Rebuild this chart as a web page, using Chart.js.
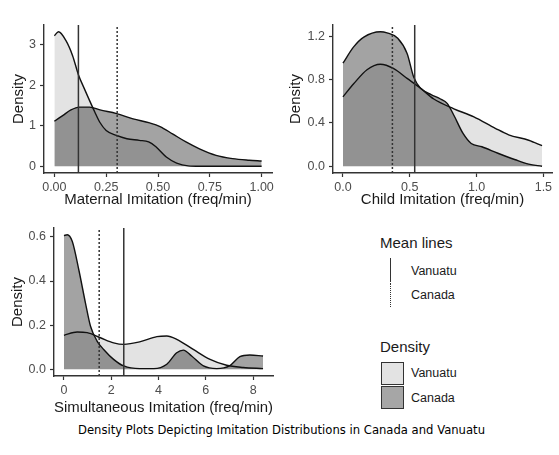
<!DOCTYPE html>
<html><head><meta charset="utf-8">
<script src="https://cdn.jsdelivr.net/npm/chart.js@4/dist/chart.umd.min.js"></script>
<style>
html,body{margin:0;padding:0;background:#fff;}
body{width:559px;height:455px;overflow:hidden;position:relative;font-family:"Liberation Sans",Arial,sans-serif;}
canvas{position:absolute;}
.lg{position:absolute;color:#1a1a1a;white-space:nowrap;line-height:1;}
.lt{font-size:15px;}
.ll{font-size:12.5px;}
.key{position:absolute;box-sizing:border-box;}
#cap{position:absolute;left:2px;top:424px;width:559px;text-align:center;font-family:"DejaVu Sans",sans-serif;font-size:12.5px;line-height:1;color:#000;transform-origin:50% 50%;white-space:nowrap;}
</style></head><body>
<canvas id="c1" style="left:0;top:0" width="280" height="215"></canvas>
<canvas id="c2" style="left:280px;top:0" width="279" height="215"></canvas>
<canvas id="c3" style="left:0;top:215px" width="300" height="205"></canvas>

<div class="lg lt" style="left:380px;top:235px">Mean lines</div>
<div class="key" style="left:390px;top:258px;width:0;height:24px;border-left:1.5px solid #333"></div>
<div class="key" style="left:390px;top:283px;width:0;height:24px;border-left:1.5px dotted #333"></div>
<div class="lg ll" style="left:411px;top:265px">Vanuatu</div>
<div class="lg ll" style="left:411px;top:289px">Canada</div>

<div class="lg lt" style="left:380px;top:339px">Density</div>
<div class="key" style="left:381px;top:362px;width:23px;height:23px;border:1.5px solid #333;background:#e3e3e3"></div>
<div class="key" style="left:381px;top:386px;width:23px;height:23px;border:1.5px solid #333;background:#a6a6a6"></div>
<div class="lg ll" style="left:411px;top:367px">Vanuatu</div>
<div class="lg ll" style="left:411px;top:392px">Canada</div>

<div id="cap">Density Plots Depicting Imitation Distributions in Canada and Vanuatu</div>

<script>
// ---------- DATA ----------
// Maternal imitation
const maternalVanuatuX = [0, 0.02, 0.056, 0.088, 0.116, 0.145, 0.17, 0.195, 0.22, 0.25, 0.3, 0.35, 0.41, 0.455, 0.49, 0.54, 0.59, 0.645, 0.7, 0.85, 1.0];
const maternalVanuatuY = [3.22, 3.32, 3.10, 2.73, 2.26, 1.91, 1.62, 1.34, 1.08, 0.885, 0.76, 0.68, 0.64, 0.60, 0.48, 0.23, 0.08, 0.01, 0, 0, 0];
const maternalCanadaX = [0, 0.04, 0.08, 0.12, 0.17, 0.22, 0.3, 0.38, 0.46, 0.51, 0.57, 0.635, 0.70, 0.78, 0.86, 0.94, 1.0];
const maternalCanadaY = [1.11, 1.25, 1.39, 1.46, 1.46, 1.39, 1.30, 1.17, 1.07, 0.98, 0.80, 0.60, 0.43, 0.27, 0.19, 0.15, 0.13];
// Child imitation
const childVanuatuX = [0, 0.08, 0.18, 0.28, 0.38, 0.48, 0.58, 0.68, 0.83, 0.98, 1.14, 1.24, 1.39, 1.49];
const childVanuatuY = [0.64, 0.76, 0.89, 0.94, 0.90, 0.81, 0.72, 0.62, 0.53, 0.455, 0.35, 0.29, 0.24, 0.19];
const childCanadaX = [0, 0.08, 0.156, 0.28, 0.33, 0.41, 0.48, 0.53, 0.58, 0.66, 0.73, 0.78, 0.83, 0.9, 0.96, 1.04, 1.16, 1.29, 1.39, 1.49];
const childCanadaY = [0.95, 1.10, 1.19, 1.24, 1.23, 1.18, 1.04, 0.82, 0.72, 0.66, 0.62, 0.58, 0.47, 0.30, 0.21, 0.18, 0.12, 0.06, 0.02, 0.0];
// Simultaneous imitation
const simulVanuatuX = [0, 0.56, 0.98, 1.54, 2.1, 2.53, 3.2, 3.93, 4.35, 4.77, 5.47, 6.18, 6.88, 7.58, 8.42];
const simulVanuatuY = [0.154, 0.169, 0.166, 0.143, 0.12, 0.113, 0.124, 0.148, 0.151, 0.136, 0.09, 0.045, 0.018, 0.008, 0.003];
const simulCanadaX = [0, 0.14, 0.35, 0.63, 0.91, 1.12, 1.4, 1.68, 2.1, 2.53, 3.2, 3.8, 4.35, 4.77, 5.05, 5.4, 5.9, 6.46, 7.0, 7.44, 7.86, 8.42];
const simulCanadaY = [0.606, 0.61, 0.58, 0.45, 0.30, 0.196, 0.128, 0.09, 0.045, 0.015, 0.003, 0.003, 0.023, 0.075, 0.087, 0.06, 0.015, 0.003, 0.015, 0.057, 0.065, 0.06];
// Mean lines [maternal, child, simultaneous]
const meanVanuatu = [0.116, 0.537, 2.53];
const meanCanada = [0.303, 0.37, 1.49];
// Tick labels
const maternalXTicks = ["0.00", "0.25", "0.50", "0.75", "1.00"];
const maternalYTicks = ["0", "1", "2", "3"];
const childXTicks = ["0.0", "0.5", "1.0", "1.5"];
const childYTicks = ["0.0", "0.4", "0.8", "1.2"];
const simulXTicks = ["0", "2", "4", "6", "8"];
const simulYTicks = ["0.0", "0.2", "0.4", "0.6"];
const axisTitles = ["Maternal Imitation (freq/min)", "Child Imitation (freq/min)", "Simultaneous Imitation (freq/min)"];
const yTitle = "Density";

// ---------- DRAW ----------
const FONT = '"Liberation Sans", Arial, sans-serif';
function pts(xs, ys) { return xs.map((x, i) => ({ x: x, y: ys[i] })); }

function buildPanel(id, p) {
  const tickFont = { family: FONT, size: 12.5 };
  const titleFont = { family: FONT, size: 15 };
  const datasets = [
    { data: [{ x: p.meanV, y: p.yMin }, { x: p.meanV, y: p.yMax }], borderColor: '#333', borderWidth: 1.5, pointRadius: 0, fill: false, tension: 0 },
    { data: [{ x: p.meanC, y: p.yMin }, { x: p.meanC, y: p.yMax }], borderColor: '#333', borderWidth: 1.5, borderDash: [2, 2], pointRadius: 0, fill: false, tension: 0 },
    { data: pts(p.vx, p.vy), borderColor: '#111', borderWidth: 1.4, backgroundColor: 'rgba(0,0,0,0.11)', fill: 'origin', pointRadius: 0, cubicInterpolationMode: 'monotone' },
    { data: pts(p.cx, p.cy), borderColor: '#111', borderWidth: 1.4, backgroundColor: 'rgba(0,0,0,0.36)', fill: 'origin', pointRadius: 0, cubicInterpolationMode: 'monotone' }
  ];
  const gridOpts = { drawOnChartArea: false, drawTicks: true, tickLength: 4, tickColor: '#333', tickWidth: 1.2 };
  const borderOpts = { display: true, color: '#333', width: 1.4 };
  new Chart(document.getElementById(id), {
    type: 'line',
    data: { datasets: datasets },
    options: {
      responsive: false, animation: false, events: [], devicePixelRatio: 1,
      layout: { padding: { top: p.padTop, right: p.padRight, left: 0, bottom: 0 } },
      plugins: { legend: { display: false }, tooltip: { enabled: false } },
      scales: {
        x: {
          type: 'linear', min: p.xMin, max: p.xMax,
          afterBuildTicks: a => { a.ticks = p.xTicks.map(s => ({ value: parseFloat(s) })); },
          ticks: { callback: (v, i) => p.xTicks[i], font: tickFont, color: '#4d4d4d', padding: 3, maxRotation: 0, autoSkip: false },
          grid: gridOpts, border: borderOpts,
          title: { display: true, text: p.xTitle, font: titleFont, color: '#1a1a1a', padding: { top: 0, bottom: p.xTitlePad } },
          afterFit: a => { a.height = p.xAxisH; }
        },
        y: {
          type: 'linear', min: p.yMin, max: p.yMax,
          afterBuildTicks: a => { a.ticks = p.yTicks.map(s => ({ value: parseFloat(s) })); },
          ticks: { callback: (v, i) => p.yTicks[i], font: tickFont, color: '#4d4d4d', padding: 4, autoSkip: false },
          grid: gridOpts, border: borderOpts,
          title: { display: true, text: yTitle, font: titleFont, color: '#1a1a1a', padding: { top: p.yTitlePad, bottom: 0 } },
          afterFit: a => { a.width = p.yAxisW; }
        }
      }
    }
  });
}

buildPanel('c1', {
  vx: maternalVanuatuX, vy: maternalVanuatuY, cx: maternalCanadaX, cy: maternalCanadaY,
  meanV: meanVanuatu[0], meanC: meanCanada[0],
  xMin: -0.05, xMax: 1.05, yMin: -0.166, yMax: 3.486,
  xTicks: maternalXTicks, yTicks: maternalYTicks, xTitle: axisTitles[0],
  padTop: 25, padRight: 8, yAxisW: 44, xAxisH: 42, xTitlePad: 6, yTitlePad: 9.5
});
buildPanel('c2', {
  vx: childVanuatuX, vy: childVanuatuY, cx: childCanadaX, cy: childCanadaY,
  meanV: meanVanuatu[1], meanC: meanCanada[1],
  xMin: -0.0745, xMax: 1.5645, yMin: -0.062, yMax: 1.302,
  xTicks: childXTicks, yTicks: childYTicks, xTitle: axisTitles[1],
  padTop: 25, padRight: 7, yAxisW: 53, xAxisH: 42, xTitlePad: 6, yTitlePad: 6.5
});
buildPanel('c3', {
  vx: simulVanuatuX, vy: simulVanuatuY, cx: simulCanadaX, cy: simulCanadaY,
  meanV: meanVanuatu[2], meanC: meanCanada[2],
  xMin: -0.421, xMax: 8.841, yMin: -0.0305, yMax: 0.6405,
  xTicks: simulXTicks, yTicks: simulYTicks, xTitle: axisTitles[2],
  padTop: 13, padRight: 27, yAxisW: 54, xAxisH: 44, xTitlePad: 3, yTitlePad: 9
});

// fit caption width
(function () {
  const cap = document.getElementById('cap');
  const ctx = document.createElement('canvas').getContext('2d');
  ctx.font = '12.5px "DejaVu Sans"';
  const w = ctx.measureText(cap.textContent).width;
  cap.style.transform = 'scaleX(' + (407 / w).toFixed(4) + ')';
})();
</script>
</body></html>
